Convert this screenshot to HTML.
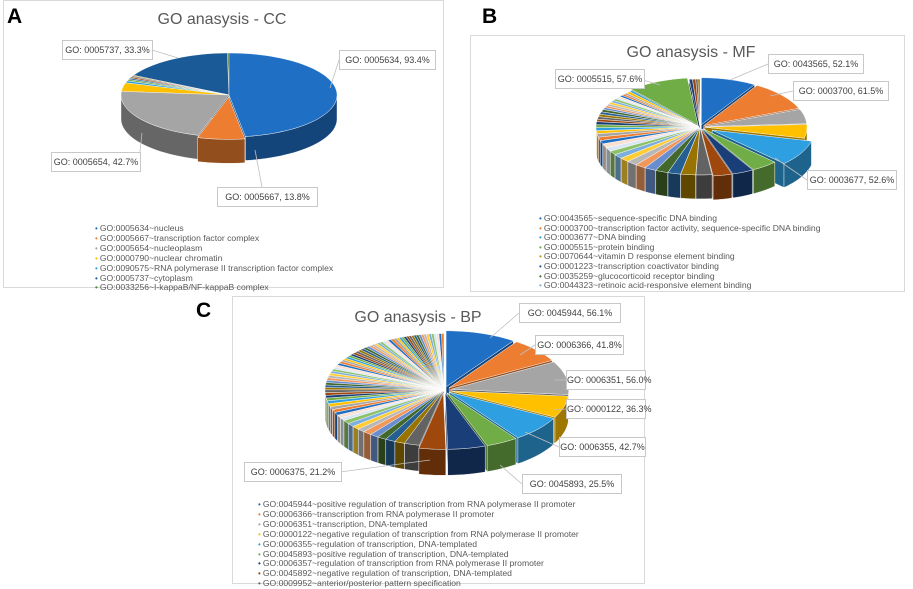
<!DOCTYPE html>
<html><head><meta charset="utf-8">
<style>
body{margin:0;width:913px;height:585px;background:#fff;overflow:hidden;position:relative;font-family:"Liberation Sans",sans-serif}
.panel{position:absolute;border:1px solid #d9d9d9;background:#fff}
.letter{position:absolute;font-weight:bold;font-size:21px;color:#000}
.title{position:absolute;font-size:16px;color:#595959;transform:translateX(-50%);white-space:nowrap}
.lbl{position:absolute;border:1px solid #c8c8c8;background:#fff;font-size:9px;color:#404040;text-align:center;white-space:nowrap;line-height:18px}
.legend{position:absolute;font-size:8.6px;color:#595959;line-height:8.9px;white-space:nowrap}
.legend span{font-size:8px;margin-right:2px}
svg{position:absolute;left:0;top:0}
</style></head><body>
<svg id="chart" width="913" height="585"></svg>

<div class="letter" style="left:7px;top:5px">A</div>
<div class="letter" style="left:482px;top:5px">B</div>
<div class="letter" style="left:196px;top:299px">C</div>

<div class="title" style="left:222px;top:11px">GO anasysis - CC</div>
<div class="title" style="left:691px;top:44px">GO anasysis - MF</div>
<div class="title" style="left:418px;top:309px">GO anasysis - BP</div>

<div class="lbl" style="left:62px;top:40px;width:89px">GO: 0005737, 33.3%</div>
<div class="lbl" style="left:339px;top:50px;width:95px">GO: 0005634, 93.4%</div>
<div class="lbl" style="left:51px;top:152px;width:88px">GO: 0005654, 42.7%</div>
<div class="lbl" style="left:217px;top:187px;width:99px">GO: 0005667, 13.8%</div>

<div class="lbl" style="left:768px;top:54px;width:94px">GO: 0043565, 52.1%</div>
<div class="lbl" style="left:793px;top:81px;width:94px">GO: 0003700, 61.5%</div>
<div class="lbl" style="left:807px;top:170px;width:88px">GO: 0003677, 52.6%</div>
<div class="lbl" style="left:555px;top:69px;width:88px">GO: 0005515, 57.6%</div>

<div class="lbl" style="left:519px;top:303px;width:100px">GO: 0045944, 56.1%</div>
<div class="lbl" style="left:535px;top:335px;width:87px">GO: 0006366, 41.8%</div>
<div class="lbl" style="left:566px;top:370px;width:78px">GO: 0006351, 56.0%</div>
<div class="lbl" style="left:566px;top:399px;width:78px">GO: 0000122, 36.3%</div>
<div class="lbl" style="left:559px;top:437px;width:85px">GO: 0006355, 42.7%</div>
<div class="lbl" style="left:522px;top:474px;width:98px">GO: 0045893, 25.5%</div>
<div class="lbl" style="left:244px;top:462px;width:96px">GO: 0006375, 21.2%</div>

<div class="legend" style="left:95px;top:224px">
<div><span style="color:#1f6fc4">•</span>GO:0005634~nucleus</div>
<div><span style="color:#ed7d31">•</span>GO:0005667~transcription factor complex</div>
<div><span style="color:#a5a5a5">•</span>GO:0005654~nucleoplasm</div>
<div><span style="color:#ffc000">•</span>GO:0000790~nuclear chromatin</div>
<div><span style="color:#2e9fe0">•</span>GO:0090575~RNA polymerase II transcription factor complex</div>
<div><span style="color:#1a5a96">•</span>GO:0005737~cytoplasm</div>
<div><span style="color:#43882b">•</span>GO:0033256~I-kappaB/NF-kappaB complex</div>
</div>
<div class="legend" style="left:539px;top:214px;line-height:9.6px">
<div><span style="color:#1f6fc4">•</span>GO:0043565~sequence-specific DNA binding</div>
<div><span style="color:#ed7d31">•</span>GO:0003700~transcription factor activity, sequence-specific DNA binding</div>
<div><span style="color:#2e9fe0">•</span>GO:0003677~DNA binding</div>
<div><span style="color:#70ad47">•</span>GO:0005515~protein binding</div>
<div><span style="color:#c8960a">•</span>GO:0070644~vitamin D response element binding</div>
<div><span style="color:#1a5a96">•</span>GO:0001223~transcription coactivator binding</div>
<div><span style="color:#43682b">•</span>GO:0035259~glucocorticoid receptor binding</div>
<div><span style="color:#7cafdd">•</span>GO:0044323~retinoic acid-responsive element binding</div>
</div>
<div class="legend" style="left:258px;top:500px">
<div><span style="color:#1f6fc4">•</span>GO:0045944~positive regulation of transcription from RNA polymerase II promoter</div>
<div><span style="color:#ed7d31">•</span>GO:0006366~transcription from RNA polymerase II promoter</div>
<div><span style="color:#a5a5a5">•</span>GO:0006351~transcription, DNA-templated</div>
<div><span style="color:#ffc000">•</span>GO:0000122~negative regulation of transcription from RNA polymerase II promoter</div>
<div><span style="color:#2e9fe0">•</span>GO:0006355~regulation of transcription, DNA-templated</div>
<div><span style="color:#70ad47">•</span>GO:0045893~positive regulation of transcription, DNA-templated</div>
<div><span style="color:#1a3f78">•</span>GO:0006357~regulation of transcription from RNA polymerase II promoter</div>
<div><span style="color:#9e480e">•</span>GO:0045892~negative regulation of transcription, DNA-templated</div>
<div><span style="color:#636363">•</span>GO:0009952~anterior/posterior pattern specification</div>
</div>

<script>
// ---- data ----
const ccValues = [93.4, 13.8, 42.7, 6.5, 1.5, 1.2, 1.0, 1.0, 0.8, 0.6, 33.3, 0.5];
const ccColors = ["#1f6fc4","#ed7d31","#a5a5a5","#ffc000","#2e9fe0","#70ad47","#1a5a96","#9e480e","#636363","#997300","#1a5a96","#43682b"];
const mfValues = [52.1, 61.5, 30, 28, 52.6, 25, 20, 18, 15, 14, 12, 12, 11, 10, 10, 9, 9, 8, 8, 8, 7, 7, 7, 6, 6, 6, 6, 5, 5, 5, 5, 5, 4, 4, 4, 4, 4, 4, 3, 3, 3, 3, 3, 4, 3, 57.6, 3, 3, 2, 2];
const bpValues = [56.1, 41.8, 56.0, 36.3, 42.7, 25.5, 30, 21.2, 12, 8, 8, 7, 7, 7, 6, 6, 6, 6, 5, 5, 5, 5, 5, 5, 5, 4.5, 4.5, 4.5, 4.5, 4, 4, 4, 4, 4, 4, 4, 3.5, 3.5, 3.5, 3.5, 3.5, 3.5, 3, 3, 3, 3, 3, 3, 3, 3, 3, 3, 3, 2.5, 2.5, 2.5, 2.5, 2.5, 2.5, 2.5, 2.5, 2.5, 2.5, 2, 2, 2, 2, 2, 2, 2, 2, 2, 2, 2, 2, 2, 2, 2, 2, 2, 2, 2];
const palette = ["#1f6fc4","#ed7d31","#a5a5a5","#ffc000","#2e9fe0","#70ad47","#1a3f78","#9e480e","#636363","#997300","#255e91","#43682b","#698ed0","#f1975a","#b7b7b7","#ffcd33","#7cafdd","#8cc168","#d9e6f5","#fbe0cf"];

const NS = "http://www.w3.org/2000/svg";
const svg = document.getElementById("chart");

// panel frames
function frame(x,y,w,h,name){
  const r=document.createElementNS(NS,"rect");
  r.setAttribute("x",x);r.setAttribute("y",y);r.setAttribute("width",w);r.setAttribute("height",h);
  r.setAttribute("fill","#fff");r.setAttribute("stroke","#d9d9d9");
  
  
  svg.appendChild(r);
}
frame(3.5,0.5,440,287,"panel-a-frame");
frame(470.5,35.5,434,256,"panel-b-frame");
frame(232.5,296.5,412,287,"panel-c-frame");

function darker(hex,f){
  const n=parseInt(hex.slice(1),16);
  const r=Math.round(((n>>16)&255)*f),g=Math.round(((n>>8)&255)*f),b=Math.round((n&255)*f);
  return "rgb("+r+","+g+","+b+")";
}

function drawPie(cfg, values, colors, explodeArr, name){
  const total = values.reduce((a,b)=>a+b,0);
  const pt=(a,dx,dy,down)=>[cfg.cx+dx+cfg.rx*Math.sin(a), cfg.cy+dy-cfg.ry*Math.cos(a)+(down||0)];
  let acc=0;
  const slices = values.map((v,i)=>{
    const a1=acc/total*2*Math.PI; acc+=v; const a2=acc/total*2*Math.PI;
    const mid=(a1+a2)/2; const e=explodeArr(i);
    return {i,a1,a2,mid,dx:e*Math.sin(mid),dy:-e*Math.cos(mid)*cfg.ry/cfg.rx,col:colors[i%colors.length]};
  });
  const g=document.createElementNS(NS,"g");
  
  
  svg.appendChild(g);
  const order=slices.slice().sort((p,q)=>(-Math.cos(p.mid))-(-Math.cos(q.mid)));
  const D=cfg.depth;
  function add(d,fill,nm){
    const p=document.createElementNS(NS,"path");
    p.setAttribute("d",d);p.setAttribute("fill",fill);
    p.setAttribute("stroke","#ffffff");p.setAttribute("stroke-width","0.4");
    
    
    g.appendChild(p);
  }
  // walls first (all), then tops
  order.forEach(s=>{
    const c=[cfg.cx+s.dx,cfg.cy+s.dy];
    const wc=darker(s.col,0.62);
    // radial walls
    [s.a1,s.a2].forEach(a=>{
      const e=pt(a,s.dx,s.dy);
      add("M"+c[0]+","+c[1]+"L"+e[0]+","+e[1]+"L"+e[0]+","+(e[1]+D)+"L"+c[0]+","+(c[1]+D)+"Z",wc,"slice-wall");
    });
    // outer wall visible part
    const lo=Math.max(s.a1,Math.PI/2), hi=Math.min(s.a2,3*Math.PI/2);
    if(hi>lo){
      let d="";const n=Math.max(2,Math.ceil((hi-lo)/0.05));
      for(let k=0;k<=n;k++){const a=lo+(hi-lo)*k/n;const p=pt(a,s.dx,s.dy);d+=(k?"L":"M")+p[0].toFixed(1)+","+p[1].toFixed(1);}
      for(let k=n;k>=0;k--){const a=lo+(hi-lo)*k/n;const p=pt(a,s.dx,s.dy,D);d+="L"+p[0].toFixed(1)+","+p[1].toFixed(1);}
      add(d+"Z",wc,"slice-side");
    }
  });
  order.forEach(s=>{
    const c=[cfg.cx+s.dx,cfg.cy+s.dy];
    let d="M"+c[0]+","+c[1];const n=Math.max(2,Math.ceil((s.a2-s.a1)/0.05));
    for(let k=0;k<=n;k++){const a=s.a1+(s.a2-s.a1)*k/n;const p=pt(a,s.dx,s.dy);d+="L"+p[0].toFixed(1)+","+p[1].toFixed(1);}
    add(d+"Z",s.col,"slice-top");
  });
}

drawPie({cx:229,cy:95,rx:108,ry:42,depth:24}, ccValues, ccColors, i=>(i===1?6:0), "pie-cc");
drawPie({cx:700,cy:127,rx:102,ry:47,depth:24}, mfValues, palette, i=>(i===4?14:(i<8||i===45?5:2)), "pie-mf");
drawPie({cx:444,cy:390,rx:118,ry:56,depth:26}, bpValues, palette, i=>(i<8?7:1), "pie-bp");

// leader lines
const leaders=[[152,50,178,58],[339,60,330,88],[139,160,142,133],[262,187,255,150],[768,64,730,80],[793,91,770,96],[807,180,775,158],[643,80,660,85],[519,313,490,338],[535,345,520,355],[566,380,555,380],[566,409,553,410],[559,447,525,432],[522,484,500,465],[340,472,430,460]];
leaders.forEach(l=>{
  const ln=document.createElementNS(NS,"line");
  ln.setAttribute("x1",l[0]);ln.setAttribute("y1",l[1]);ln.setAttribute("x2",l[2]);ln.setAttribute("y2",l[3]);
  ln.setAttribute("stroke","#bfbfbf");ln.setAttribute("stroke-width","0.8");
  
  
  svg.appendChild(ln);
});
</script>
</body></html>
